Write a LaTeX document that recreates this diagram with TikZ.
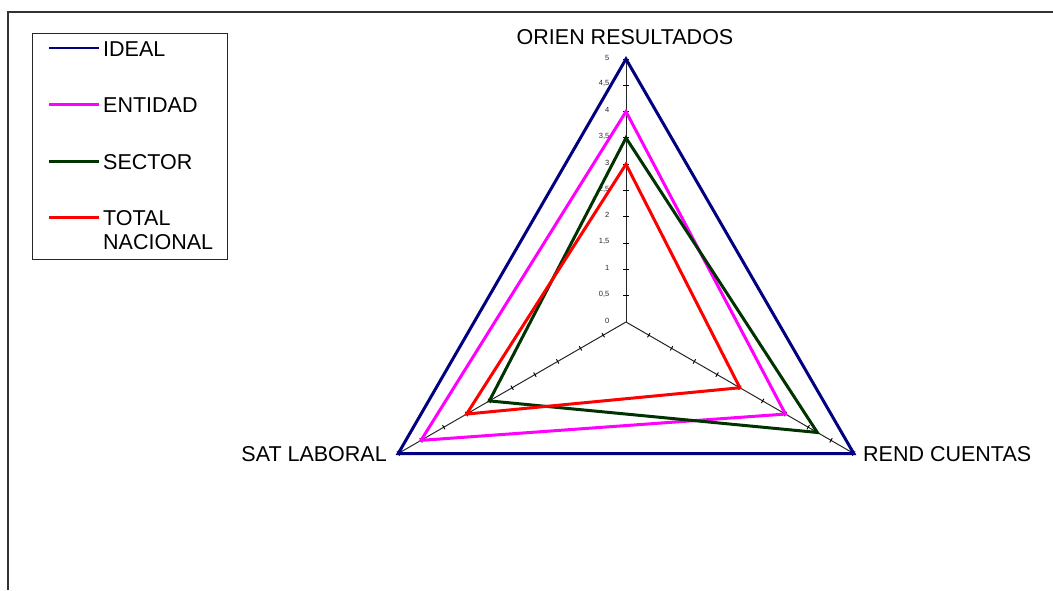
\documentclass[tikz,border=0pt]{standalone}
\usepackage{fontspec}
\setmainfont{Liberation Sans}
\usetikzlibrary{calc}
\definecolor{ideal}{RGB}{0,0,128}
\definecolor{entidad}{RGB}{255,0,255}
\definecolor{sector}{RGB}{0,51,0}
\definecolor{total}{RGB}{255,0,0}
\begin{document}
\begin{tikzpicture}[x=1pt,y=1pt,
  lbl/.style={font=\fontsize{21.5}{25}\selectfont, inner sep=0pt},
  ticklbl/.style={font=\fontsize{7.5}{8}\selectfont, text=black!85, inner sep=0pt, anchor=east},
  axisline/.style={line width=1pt, black!85},
  tickmark/.style={line width=0.9pt, black},
  series/.style={line width=3pt, line join=miter},
  legline/.style={line width=2.5pt},
  frame/.style={line width=2pt, black!80}]
\useasboundingbox (0,0) rectangle (1053,-590);
\draw[frame] (8,-590) -- (8,-12) -- (1053,-12);

\def\u{52.6}
\coordinate (O) at (626,-322);
\coordinate (A) at ($(O)+(90:{5*\u})$);
\coordinate (B) at ($(O)+(-30:{5*\u})$);
\coordinate (C) at ($(O)+(210:{5*\u})$);

% axes
\draw[axisline] (O) -- (A);
\draw[axisline] (O) -- (B);
\draw[axisline] (O) -- (C);
\foreach \k in {1,...,10}{
  \draw[tickmark] ($(O)!\k/10!(A)$) ++(-3,0) -- ++(6,0);
  \draw[tickmark] ($(O)!\k/10!(B)$) ++(60:2.5) -- ++(240:5);
  \draw[tickmark] ($(O)!\k/10!(C)$) ++(120:2.5) -- ++(300:5);
}
\foreach \k/\t in {0/0,1/{0,5},2/1,3/{1,5},4/2,5/{2,5},6/3,7/{3,5},8/4,9/{4,5},10/5}{
  \node[ticklbl] at ($(O)+(-16.5,{\k*\u/2+1.5})$) {\t};
}

% series: top, right, left
\foreach \nm/\t/\r/\l in {id/5/5/5, en/4/3.5/4.5, se/3.5/4.2/3, to/3/2.5/3.5}{
  \coordinate (\nm-t) at ($(O)+(90:{\t*\u})$);
  \coordinate (\nm-r) at ($(O)+(-30:{\r*\u})$);
  \coordinate (\nm-l) at ($(O)+(210:{\l*\u})$);
}
\draw[series, ideal] (id-t) -- (id-r) -- (id-l) -- cycle;
\draw[series, entidad] (en-t) -- (en-r) -- (en-l) -- cycle;
\draw[series, sector] (se-t) -- (se-r) -- (se-l) -- cycle;
\draw[series, total] (to-t) -- (to-r) -- (to-l) -- cycle;

% axis labels
\node[lbl, anchor=base] (lt) at (625,-44) {ORIEN RESULTADOS};
\node[lbl, anchor=base east] (ll) at (387,-461) {SAT LABORAL};
\node[lbl, anchor=base west] (lr) at (863,-461) {REND CUENTAS};

% legend
\draw[line width=1pt, black!85] (32,-33) rectangle (227,-259);
\draw[legline, ideal] (49,-48) -- (99,-48);
\draw[legline, entidad] (49,-104.5) -- (99,-104.5);
\draw[legline, sector] (49,-161.5) -- (99,-161.5);
\draw[legline, total] (49,-217.5) -- (99,-217.5);
\node[lbl, anchor=base west] (k1) at (103,-56) {IDEAL};
\node[lbl, anchor=base west] (k2) at (103,-112.5) {ENTIDAD};
\node[lbl, anchor=base west] (k3) at (103,-169) {SECTOR};
\node[lbl, anchor=base west] (k4) at (103,-225) {TOTAL};
\node[lbl, anchor=base west] (k4b) at (103,-249.5) {NACIONAL};
\end{tikzpicture}
\end{document}
